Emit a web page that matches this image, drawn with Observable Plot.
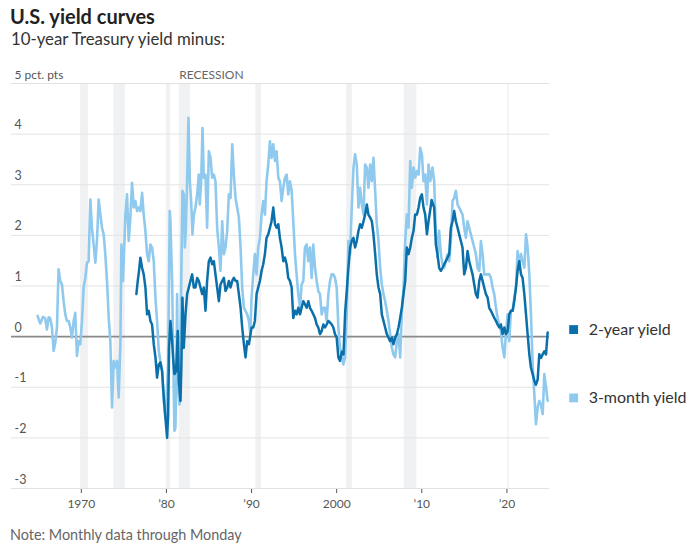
<!DOCTYPE html>
<html><head><meta charset="utf-8">
<script src="https://cdn.jsdelivr.net/npm/d3@7"></script>
<script src="https://cdn.jsdelivr.net/npm/@observablehq/plot@0.6"></script>
<style>
body{margin:0;background:#fff;font-family:Lato,"Noto Sans",sans-serif;}
#wrap{position:relative;width:698px;height:545px;overflow:hidden;}
#title{position:absolute;left:10px;top:6px;font-size:20px;font-weight:700;line-height:20px;color:#222;}
#subtitle{position:absolute;left:11px;top:30px;font-size:16.8px;line-height:17px;color:#333;}
#chart{position:absolute;left:0;top:60px;}
#note{position:absolute;left:10px;top:527px;font-size:14.4px;line-height:15px;color:#666;}
</style></head><body>
<div id="wrap">
<div id="title">U.S. yield curves</div>
<div id="subtitle">10-year Treasury yield minus:</div>
<div id="chart"></div>
<div id="note">Note: Monthly data through Monday</div>
</div>
<script>
// ---- data (decimal year, spread in percentage points) ----
const threeMonth = [[1964.86,0.41],[1965.18,0.26],[1965.49,0.39],[1965.76,0.36],[1965.96,0.14],[1966.16,0.38],[1966.35,0.36],[1966.55,0.18],[1966.75,-0.28],[1966.94,-0.12],[1967.14,0.18],[1967.33,1.33],[1967.53,1.10],[1967.73,1.03],[1967.92,0.70],[1968.12,0.44],[1968.31,0.31],[1968.51,0.31],[1968.71,0.18],[1968.90,-0.02],[1969.10,0.31],[1969.29,0.47],[1969.49,-0.38],[1969.69,-0.09],[1969.88,-0.15],[1970.08,0.31],[1970.27,0.97],[1970.47,1.16],[1970.67,1.46],[1970.86,1.49],[1971.06,2.71],[1971.25,2.15],[1971.45,1.82],[1971.65,1.46],[1971.84,1.89],[1972.04,2.71],[1972.24,2.41],[1972.43,2.15],[1972.63,2.02],[1972.82,1.63],[1973.02,1.10],[1973.22,0.37],[1973.41,-0.09],[1973.61,-1.40],[1973.80,-0.48],[1974.00,-0.61],[1974.20,-0.48],[1974.39,-1.20],[1974.59,-0.15],[1974.71,1.82],[1974.90,1.10],[1975.18,2.41],[1975.37,2.81],[1975.57,1.89],[1975.76,2.35],[1975.96,3.04],[1976.16,2.55],[1976.35,2.68],[1976.55,2.48],[1976.75,2.55],[1976.94,2.48],[1977.14,2.84],[1977.33,2.41],[1977.53,2.09],[1977.73,1.63],[1977.92,1.49],[1978.12,1.82],[1978.31,1.76],[1978.51,1.49],[1978.71,0.77],[1978.90,0.31],[1979.10,-0.28],[1979.29,-0.48],[1979.49,-0.68],[1979.69,-1.27],[1979.88,-1.60],[1980.08,-1.0],[1980.2,-0.6],[1980.31,1.2],[1980.39,2.48],[1980.47,2.28],[1980.58,1.6],[1980.67,1.1],[1980.78,-0.2],[1980.94,-1.86],[1981.06,-1.80],[1981.18,-0.74],[1981.25,0.84],[1981.37,-0.87],[1981.53,-1.34],[1981.65,-0.22],[1981.76,1.36],[1981.88,2.88],[1982.04,2.81],[1982.16,1.76],[1982.27,2.09],[1982.43,3.07],[1982.59,4.32],[1982.75,3.07],[1982.90,2.68],[1983.06,2.02],[1983.22,2.41],[1983.41,2.55],[1983.61,2.81],[1983.80,3.20],[1983.92,2.61],[1984.08,3.07],[1984.24,4.12],[1984.39,3.14],[1984.59,3.20],[1984.78,2.15],[1984.98,3.66],[1985.18,3.53],[1985.37,3.14],[1985.57,3.20],[1985.76,3.07],[1985.96,2.15],[1986.16,1.76],[1986.35,1.30],[1986.55,2.28],[1986.75,1.63],[1986.94,1.76],[1987.14,2.09],[1987.33,2.81],[1987.53,2.74],[1987.73,3.80],[1987.92,3.20],[1988.12,2.74],[1988.31,2.55],[1988.51,2.35],[1988.71,1.76],[1988.90,0.97],[1989.10,0.57],[1989.29,0.51],[1989.49,0.44],[1989.69,0.31],[1989.85,0.05],[1990.0,0.77],[1990.2,1.23],[1990.39,1.63],[1990.59,1.23],[1990.78,1.76],[1990.98,1.95],[1991.18,2.41],[1991.37,2.68],[1991.57,2.41],[1991.76,3.07],[1991.96,3.40],[1992.16,3.86],[1992.35,3.53],[1992.55,3.80],[1992.75,3.47],[1992.94,3.66],[1993.14,3.14],[1993.33,3.07],[1993.53,2.68],[1993.73,2.94],[1993.92,3.14],[1994.12,3.20],[1994.31,2.81],[1994.51,3.07],[1994.71,2.88],[1994.90,2.28],[1995.10,1.63],[1995.29,1.23],[1995.49,0.84],[1995.69,0.57],[1995.88,1.03],[1996.08,1.10],[1996.27,1.76],[1996.47,1.82],[1996.67,1.49],[1996.86,1.76],[1997.06,1.16],[1997.25,1.82],[1997.45,1.36],[1997.65,1.10],[1997.84,0.90],[1998.04,0.84],[1998.24,0.44],[1998.43,0.57],[1998.63,0.57],[1998.82,0.31],[1999.02,0.84],[1999.22,1.10],[1999.41,1.23],[1999.61,1.23],[1999.80,1.16],[2000.0,0.97],[2000.2,0.18],[2000.39,-0.22],[2000.59,-0.35],[2000.78,-0.55],[2000.98,-0.41],[2001.18,0.44],[2001.38,1.89],[2001.58,1.63],[2001.77,2.55],[2001.97,3.34],[2002.16,3.60],[2002.36,3.40],[2002.56,2.55],[2002.75,2.94],[2002.95,2.61],[2003.15,2.41],[2003.34,3.40],[2003.54,3.34],[2003.73,2.94],[2003.93,3.40],[2004.13,3.07],[2004.32,3.53],[2004.52,2.88],[2004.71,2.22],[2004.91,1.89],[2005.11,1.36],[2005.3,1.03],[2005.5,0.84],[2005.69,0.70],[2005.89,0.51],[2006.09,0.31],[2006.28,0.05],[2006.48,-0.22],[2006.67,-0.35],[2006.87,-0.41],[2007.07,-0.09],[2007.26,0.05],[2007.46,-0.41],[2007.65,0.44],[2007.85,0.97],[2008.05,1.89],[2008.24,2.41],[2008.44,2.15],[2008.64,3.47],[2008.83,2.94],[2009.03,3.34],[2009.22,3.14],[2009.42,3.27],[2009.62,3.20],[2009.81,3.73],[2010.01,3.60],[2010.2,3.07],[2010.4,3.20],[2010.6,2.61],[2010.79,3.40],[2010.99,3.07],[2011.25,3.34],[2011.45,3.07],[2011.65,2.09],[2011.84,1.56],[2012.04,2.09],[2012.24,1.63],[2012.43,1.43],[2012.63,1.36],[2012.82,1.49],[2013.02,1.63],[2013.22,1.49],[2013.41,1.89],[2013.61,2.68],[2013.8,2.74],[2014.0,2.88],[2014.2,2.61],[2014.39,2.55],[2014.59,2.48],[2014.78,2.41],[2014.98,2.15],[2015.18,1.95],[2015.37,2.28],[2015.57,2.15],[2015.76,2.02],[2015.96,1.89],[2016.16,1.76],[2016.35,1.63],[2016.55,1.36],[2016.75,1.30],[2016.94,1.89],[2017.14,1.63],[2017.33,1.23],[2017.53,1.23],[2017.73,1.23],[2017.92,1.23],[2018.12,1.16],[2018.31,0.97],[2018.51,0.84],[2018.71,0.57],[2018.9,0.37],[2019.1,0.24],[2019.29,0.11],[2019.49,-0.22],[2019.69,-0.41],[2019.88,0.05],[2020.08,0.44],[2020.27,-0.09],[2020.47,0.51],[2020.67,0.51],[2020.86,0.77],[2021.06,0.97],[2021.25,1.69],[2021.45,1.43],[2021.65,1.63],[2021.84,1.49],[2022.04,1.36],[2022.24,2.02],[2022.43,1.76],[2022.63,1.23],[2022.82,0.44],[2023.02,-0.55],[2023.22,-1.14],[2023.41,-1.73],[2023.61,-1.40],[2023.8,-1.27],[2024.0,-1.34],[2024.2,-1.53],[2024.39,-0.74],[2024.59,-1.0],[2024.78,-1.27]];

const twoYear = [[1976.47,0.84],[1976.63,1.10],[1976.78,1.30],[1976.94,1.56],[1977.14,1.36],[1977.33,1.23],[1977.53,0.97],[1977.73,0.44],[1977.92,0.51],[1978.12,0.31],[1978.31,0.24],[1978.51,-0.15],[1978.71,-0.41],[1978.90,-0.81],[1979.10,-0.55],[1979.29,-0.51],[1979.49,-0.68],[1979.69,-1.20],[1979.88,-1.60],[1980.08,-2.0],[1980.2,-1.53],[1980.31,-0.22],[1980.47,0.31],[1980.67,-0.09],[1980.78,-0.41],[1980.94,-0.74],[1981.14,-0.68],[1981.33,0.11],[1981.45,-0.87],[1981.65,-1.27],[1981.76,-0.55],[1981.88,0.77],[1982.04,-0.22],[1982.24,0.44],[1982.43,0.84],[1982.63,0.97],[1982.82,1.10],[1983.02,1.23],[1983.22,0.97],[1983.41,0.97],[1983.61,1.16],[1983.80,1.10],[1984.0,0.97],[1984.20,0.84],[1984.39,0.97],[1984.59,0.51],[1984.78,1.10],[1984.98,1.49],[1985.18,1.56],[1985.37,1.43],[1985.57,1.49],[1985.76,1.23],[1985.96,0.97],[1986.16,0.70],[1986.35,1.03],[1986.55,1.10],[1986.75,1.16],[1986.94,0.90],[1987.14,0.97],[1987.33,1.10],[1987.53,0.97],[1987.73,1.10],[1987.92,1.16],[1988.12,1.10],[1988.31,1.10],[1988.51,0.84],[1988.71,0.57],[1988.90,0.18],[1989.10,-0.15],[1989.29,-0.41],[1989.49,-0.09],[1989.69,-0.15],[1989.88,0.05],[1990.0,0.18],[1990.2,0.18],[1990.39,0.31],[1990.59,0.84],[1990.78,0.97],[1990.98,1.10],[1991.18,1.30],[1991.37,1.43],[1991.57,1.63],[1991.76,1.95],[1991.96,2.02],[1992.16,2.15],[1992.35,2.28],[1992.55,2.55],[1992.75,2.22],[1992.94,2.15],[1993.14,2.22],[1993.33,1.95],[1993.53,1.76],[1993.73,1.49],[1993.92,1.56],[1994.12,1.43],[1994.31,1.16],[1994.51,1.10],[1994.71,0.97],[1994.90,0.37],[1995.10,0.51],[1995.29,0.44],[1995.49,0.57],[1995.69,0.44],[1995.88,0.57],[1996.08,0.70],[1996.27,0.64],[1996.47,0.57],[1996.67,0.70],[1996.86,0.57],[1997.06,0.51],[1997.25,0.44],[1997.45,0.37],[1997.65,0.24],[1997.84,0.18],[1998.04,0.05],[1998.24,0.11],[1998.43,0.24],[1998.63,0.18],[1998.82,0.24],[1999.02,0.31],[1999.22,0.28],[1999.41,0.24],[1999.61,0.18],[1999.80,0.05],[2000.0,-0.02],[2000.2,-0.41],[2000.39,-0.48],[2000.6,-0.30],[2000.8,-0.35],[2001.0,0.5],[2001.18,0.90],[2001.38,1.36],[2001.58,1.76],[2001.77,1.89],[2001.97,1.95],[2002.16,1.76],[2002.36,1.89],[2002.56,2.09],[2002.75,2.22],[2002.95,2.15],[2003.15,2.28],[2003.34,2.41],[2003.54,2.61],[2003.73,2.41],[2003.93,2.35],[2004.13,2.28],[2004.32,2.02],[2004.52,1.63],[2004.71,1.23],[2004.91,0.97],[2005.11,0.84],[2005.3,0.44],[2005.5,0.31],[2005.69,0.18],[2005.89,0.05],[2006.09,-0.02],[2006.28,-0.09],[2006.48,-0.02],[2006.67,-0.15],[2006.87,-0.02],[2007.07,0.05],[2007.26,0.18],[2007.46,0.37],[2007.65,0.57],[2007.85,0.84],[2008.05,1.10],[2008.24,1.76],[2008.44,1.63],[2008.64,1.76],[2008.83,1.95],[2009.03,2.09],[2009.22,2.41],[2009.42,2.41],[2009.62,2.55],[2009.81,2.74],[2010.01,2.81],[2010.2,2.55],[2010.4,2.41],[2010.6,2.02],[2010.79,2.28],[2010.99,2.50],[2011.15,2.70],[2011.45,2.55],[2011.65,1.82],[2011.84,1.63],[2012.04,1.36],[2012.24,1.30],[2012.43,1.36],[2012.63,1.43],[2012.82,1.49],[2013.02,1.56],[2013.22,1.63],[2013.41,2.15],[2013.61,2.28],[2013.8,2.48],[2014.0,2.28],[2014.2,2.15],[2014.39,2.02],[2014.59,1.89],[2014.78,1.76],[2014.98,1.23],[2015.18,1.36],[2015.37,1.69],[2015.57,1.49],[2015.76,1.36],[2015.96,1.23],[2016.16,1.03],[2016.35,0.84],[2016.55,0.77],[2016.75,1.10],[2016.94,1.23],[2017.14,1.10],[2017.33,0.97],[2017.53,0.84],[2017.73,0.77],[2017.92,0.57],[2018.12,0.51],[2018.31,0.44],[2018.51,0.37],[2018.71,0.31],[2018.9,0.24],[2019.1,0.18],[2019.29,0.24],[2019.49,0.05],[2019.69,0.18],[2019.88,0.05],[2020.08,0.11],[2020.27,0.44],[2020.47,0.51],[2020.67,0.51],[2020.86,0.70],[2021.06,0.97],[2021.25,1.30],[2021.45,1.49],[2021.65,1.23],[2021.84,1.16],[2022.04,0.84],[2022.24,0.44],[2022.43,0.05],[2022.63,-0.35],[2022.82,-0.61],[2023.02,-0.74],[2023.22,-0.87],[2023.41,-0.95],[2023.61,-0.85],[2023.8,-0.35],[2024.0,-0.42],[2024.2,-0.35],[2024.39,-0.29],[2024.59,-0.35],[2024.78,0.08]];

const recessionStarts = [1969.92,1973.83,1980.0,1981.5,1990.5,2001.17,2007.92,2020.08];
const recessionEnds   = [1970.83,1975.17,1980.5,1982.83,1991.17,2001.83,2009.42,2020.25];
const recessionLabel = "RECESSION";

const xTicks = [1970,1980,1990,2000,2010,2020];
const xTickLabels = ["1970","\u201980","\u201990","2000","\u201910","\u201920"];
const yTicks = [-3,-2,-1,0,1,2,3,4];
const yTop = 5;
const yTopLabel = "5 pct. pts";

const seriesNames = ["2-year yield","3-month yield"];
const seriesColors = ["#0b70aa","#8fcaee"];

// ---- build tables ----
const rows3m = threeMonth.map(([t,v]) => ({t, v}));
const rows2y = twoYear.map(([t,v]) => ({t, v}));
const recessions = recessionStarts.map((s,i) => ({start: s, end: recessionEnds[i]}));
const last2y = rows2y[rows2y.length-1];
const last3m = rows3m[rows3m.length-1];

const font = "Lato, 'Noto Sans', sans-serif";

const chart = Plot.plot({
  width: 698,
  height: 460,
  marginTop: 23,
  marginBottom: 32,
  marginLeft: 11,
  marginRight: 149,
  style: {fontFamily: font, fontSize: "12px", color: "#555", background: "transparent", overflow: "visible"},
  x: {domain: [1961.8, 2025.0], ticks: xTicks, tickFormat: d => xTickLabels[xTicks.indexOf(d)], tickSize: 5, tickPadding: 6, label: null},
  y: {domain: [-3, 5], axis: null},
  marks: [
    Plot.rect(recessions, {x1: "start", x2: "end", fill: "#f0f1f3"}),
    Plot.ruleY([...yTicks, yTop], {stroke: "#e3e3e3", strokeWidth: 1}),
    Plot.ruleY([0], {stroke: "#8a8a8a", strokeWidth: 1.6}),
    Plot.text(yTicks, {y: d => d, frameAnchor: "left", dx: 3, dy: -9, textAnchor: "start", text: d => String(d), fill: "#555", fontSize: 12.5}),
    Plot.text([yTop], {y: d => d, frameAnchor: "left", dx: 3, dy: -8, textAnchor: "start", text: () => yTopLabel, fill: "#555", fontSize: 12}),
    Plot.text([recessions[3]], {x: "start", y: () => yTop, dy: -8, textAnchor: "start", text: () => recessionLabel, fill: "#666", fontSize: 12}),
    Plot.line(rows3m, {x: "t", y: "v", stroke: seriesColors[1], strokeWidth: 2.6}),
    Plot.line(rows2y, {x: "t", y: "v", stroke: seriesColors[0], strokeWidth: 2.5}),
    Plot.dot([last2y], {x: "t", y: "v", symbol: "square", r: 5, fill: seriesColors[0], dx: 26, dy: -3}),
    Plot.dot([last3m], {x: "t", y: "v", symbol: "square", r: 5, fill: seriesColors[1], dx: 26, dy: -3}),
    Plot.text([last2y], {x: "t", y: "v", text: () => seriesNames[0], dx: 41, dy: -3, textAnchor: "start", fill: "#333", fontSize: 16}),
    Plot.text([last3m], {x: "t", y: "v", text: () => seriesNames[1], dx: 41, dy: -3, textAnchor: "start", fill: "#333", fontSize: 16})
  ]
});
document.getElementById("chart").appendChild(chart);
</script>
</body></html>
